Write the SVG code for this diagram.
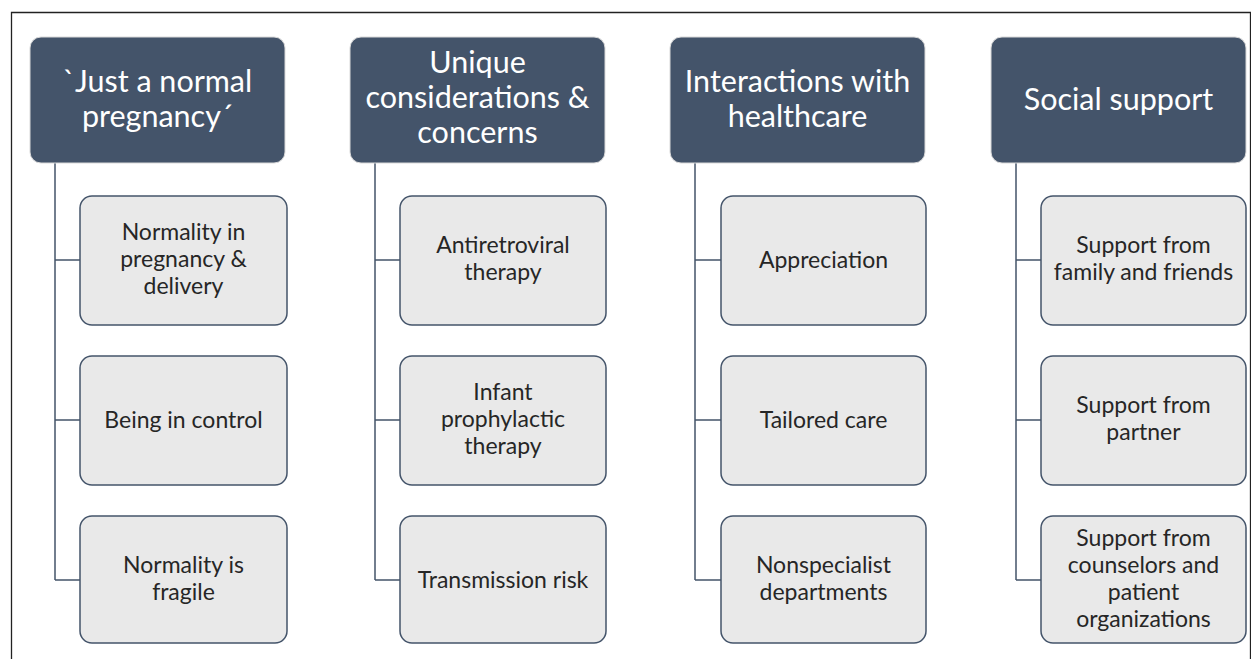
<svg xmlns="http://www.w3.org/2000/svg" width="1251" height="659" viewBox="0 0 1251 659">
<style>
.hdr{fill:#44546A;stroke:#d9d9d9;stroke-width:1}
.chd{fill:#E9E9E9;stroke:#44546A;stroke-width:1.5}
.ht{font-family:Lato,"Liberation Sans",sans-serif;font-size:30.5px;fill:#ffffff;text-anchor:middle}
.ct{font-family:Lato,"Liberation Sans",sans-serif;font-size:23px;fill:#262626;text-anchor:middle}
.con{fill:none;stroke:#44546A;stroke-width:1.5}
</style>
<rect x="0" y="0" width="1251" height="659" fill="#ffffff"/>
<path d="M11.5 665 V12.5 H1250.5 V665" fill="none" stroke="#222" stroke-width="1.3"/>
<g id="connectors">
<path class="con" d="M55 163 V580 M55 260 H80 M55 420 H80 M55 580 H80"/>
<path class="con" d="M375 163 V580 M375 260 H400 M375 420 H400 M375 580 H400"/>
<path class="con" d="M695 163 V580 M695 260 H721 M695 420 H721 M695 580 H721"/>
<path class="con" d="M1016 163 V580 M1016 260 H1041 M1016 420 H1041 M1016 580 H1041"/>
</g>
<g id="h1"><rect class="hdr" x="30" y="37" width="255" height="126" rx="11"/>
<text class="ht" x="157.5" y="92">`Just a normal</text><text class="ht" x="157.5" y="127">pregnancy´</text></g>
<g id="h2"><rect class="hdr" x="350" y="37" width="255" height="126" rx="11"/>
<text class="ht" x="477.5" y="73">Unique</text><text class="ht" x="477.5" y="108">considerations &amp;</text><text class="ht" x="477.5" y="143">concerns</text></g>
<g id="h3"><rect class="hdr" x="670" y="37" width="255" height="126" rx="11"/>
<text class="ht" x="797.5" y="92">Interactions with</text><text class="ht" x="797.5" y="127">healthcare</text></g>
<g id="h4"><rect class="hdr" x="991" y="37" width="255" height="126" rx="11"/>
<text class="ht" x="1118.5" y="110">Social support</text></g>

<g id="c1a"><rect class="chd" x="80" y="196" width="207" height="129" rx="12"/>
<text class="ct" x="183.5" y="240">Normality in</text><text class="ct" x="183.5" y="267">pregnancy &amp;</text><text class="ct" x="183.5" y="294">delivery</text></g>
<g id="c1b"><rect class="chd" x="80" y="356" width="207" height="129" rx="12"/>
<text class="ct" x="183.5" y="428">Being in control</text></g>
<g id="c1c"><rect class="chd" x="80" y="516" width="207" height="127" rx="12"/>
<text class="ct" x="183.5" y="573">Normality is</text><text class="ct" x="183.5" y="600">fragile</text></g>

<g id="c2a"><rect class="chd" x="400" y="196" width="206" height="129" rx="12"/>
<text class="ct" x="503" y="253">Antiretroviral</text><text class="ct" x="503" y="280">therapy</text></g>
<g id="c2b"><rect class="chd" x="400" y="356" width="206" height="129" rx="12"/>
<text class="ct" x="503" y="400">Infant</text><text class="ct" x="503" y="427">prophylactic</text><text class="ct" x="503" y="454">therapy</text></g>
<g id="c2c"><rect class="chd" x="400" y="516" width="206" height="127" rx="12"/>
<text class="ct" x="503" y="588">Transmission risk</text></g>

<g id="c3a"><rect class="chd" x="721" y="196" width="205" height="129" rx="12"/>
<text class="ct" x="823.5" y="268">Appreciation</text></g>
<g id="c3b"><rect class="chd" x="721" y="356" width="205" height="129" rx="12"/>
<text class="ct" x="823.5" y="428">Tailored care</text></g>
<g id="c3c"><rect class="chd" x="721" y="516" width="205" height="127" rx="12"/>
<text class="ct" x="823.5" y="573">Nonspecialist</text><text class="ct" x="823.5" y="600">departments</text></g>

<g id="c4a"><rect class="chd" x="1041" y="196" width="205" height="129" rx="12"/>
<text class="ct" x="1143.5" y="253">Support from</text><text class="ct" x="1143.5" y="280">family and friends</text></g>
<g id="c4b"><rect class="chd" x="1041" y="356" width="205" height="129" rx="12"/>
<text class="ct" x="1143.5" y="413">Support from</text><text class="ct" x="1143.5" y="440">partner</text></g>
<g id="c4c"><rect class="chd" x="1041" y="516" width="205" height="127" rx="12"/>
<text class="ct" x="1143.5" y="546">Support from</text><text class="ct" x="1143.5" y="573">counselors and</text><text class="ct" x="1143.5" y="600">patient</text><text class="ct" x="1143.5" y="627">organizations</text></g>
</svg>
